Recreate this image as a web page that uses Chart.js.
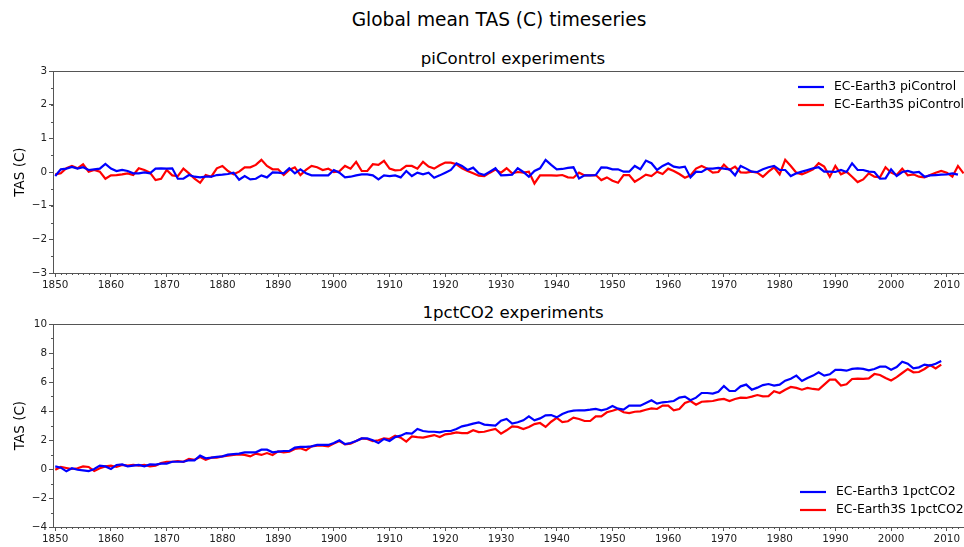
<!DOCTYPE html>
<html>
<head>
<meta charset="utf-8">
<script src="https://cdn.jsdelivr.net/npm/chart.js@4.4.1/dist/chart.umd.min.js"></script>
<style>
  body { margin: 0; width: 964px; height: 547px; overflow: hidden; background: #fff; position: relative; font-family: "DejaVu Sans", sans-serif; }
  .ttl { position: absolute; color: #000; white-space: nowrap; transform: translate(-50%, -50%); }
  canvas { position: absolute; left: 0; }
</style>
</head>
<body>
<div class="ttl" style="left:499px;top:19px;font-size:18.6px">Global mean TAS (C) timeseries</div>
<div class="ttl" style="left:513px;top:58px;font-size:16.6px">piControl experiments</div>
<div class="ttl" style="left:513px;top:312px;font-size:16.6px">1pctCO2 experiments</div>
<canvas id="ctl" width="980" height="300" style="top:0"></canvas>
<canvas id="co2" width="980" height="247" style="top:300px"></canvas>
<script>
// years start at 1850, one value per year
const firstYear = 1850;
const xTicks = [1850, 1860, 1870, 1880, 1890, 1900, 1910, 1920, 1930, 1940, 1950, 1960, 1970, 1980, 1990, 2000, 2010];
const ctlTicks = [-3, -2, -1, 0, 1, 2, 3];
const co2Ticks = [-4, -2, 0, 2, 4, 6, 8, 10];

// piControl
const ec3Ctl = [
  -0.12, 0.08, 0.10, 0.15, 0.10, 0.14, 0.06, 0.08, 0.10, 0.24,
  0.10, 0.03, 0.06, 0.03, -0.04, -0.04, -0.01, -0.04, 0.10, 0.11,
  0.10, 0.11, -0.20, -0.20, -0.09, -0.14, -0.16, -0.14, -0.14, -0.09,
  -0.08, -0.06, -0.02, -0.23, -0.12, -0.22, -0.20, -0.10, -0.16, -0.01,
  -0.02, -0.04, 0.11, -0.04, 0.08, -0.04, -0.10, -0.10, -0.10, -0.10,
  0.06, -0.02, -0.16, -0.14, -0.10, -0.07, -0.07, -0.10, -0.22, -0.10,
  -0.12, -0.10, -0.16, 0.03, -0.12, -0.02, -0.07, -0.02, -0.17, -0.10,
  -0.02, 0.06, 0.26, 0.18, 0.06, 0.13, -0.04, -0.09, 0.01, 0.11,
  -0.10, -0.09, -0.08, 0.11, 0.00, -0.14, 0.03, 0.11, 0.36, 0.21,
  0.08, 0.09, 0.12, 0.14, -0.19, -0.10, -0.10, -0.09, 0.14, 0.13,
  0.08, 0.08, 0.01, 0.01, 0.18, 0.08, 0.34, 0.26, 0.06, 0.18,
  0.26, 0.16, 0.13, 0.16, -0.16, 0.01, 0.00, 0.10, 0.10, 0.12,
  0.10, 0.08, -0.10, 0.18, 0.10, 0.01, 0.00, 0.08, 0.14, 0.18,
  0.06, 0.06, -0.12, -0.04, 0.01, 0.06, 0.11, 0.14, 0.01, 0.01,
  0.00, 0.06, 0.00, 0.26, 0.06, 0.06, 0.01, 0.00, -0.20, -0.19,
  0.08, -0.12, 0.00, 0.03, -0.02, 0.00, -0.14, -0.10, -0.09, -0.08,
  -0.07, -0.04, -0.08
];
const ec3sCtl = [
  -0.07, -0.04, 0.11, 0.18, 0.11, 0.23, 0.01, 0.06, 0.01, -0.20,
  -0.10, -0.09, -0.07, -0.04, -0.09, 0.11, 0.06, -0.02, -0.24, -0.20,
  0.06, -0.10, -0.12, 0.10, -0.04, -0.20, -0.32, -0.09, -0.14, 0.11,
  0.18, 0.03, -0.07, 0.01, 0.14, 0.14, 0.21, 0.36, 0.18, 0.08,
  0.08, -0.09, 0.06, 0.14, -0.09, 0.06, 0.18, 0.14, 0.06, 0.10,
  0.00, 0.02, 0.18, 0.10, 0.30, 0.03, 0.03, 0.23, 0.21, 0.33,
  0.10, 0.05, 0.06, 0.18, 0.18, 0.10, 0.30, 0.16, 0.10, 0.20,
  0.28, 0.28, 0.23, 0.11, 0.03, -0.04, -0.11, -0.12, -0.02, 0.07,
  -0.02, 0.11, -0.04, 0.00, -0.02, 0.01, -0.34, -0.10, -0.10, -0.10,
  -0.11, -0.09, -0.16, -0.17, -0.02, -0.10, -0.10, -0.09, -0.24, -0.16,
  -0.26, -0.32, -0.09, -0.09, -0.29, -0.19, -0.08, -0.12, 0.01, -0.06,
  0.10, 0.03, -0.06, -0.17, -0.10, 0.10, 0.18, 0.10, -0.02, 0.00,
  0.22, 0.06, 0.16, -0.01, -0.02, 0.01, -0.02, -0.14, 0.01, 0.14,
  -0.07, 0.36, 0.18, -0.02, -0.07, 0.00, 0.08, 0.26, 0.16, -0.14,
  0.18, -0.07, 0.01, -0.14, -0.30, -0.22, -0.04, -0.14, -0.16, 0.14,
  -0.02, -0.09, 0.10, -0.10, -0.07, -0.14, -0.16, -0.09, -0.02, 0.03,
  -0.02, -0.14, 0.18, -0.04
];

// 1pctCO2
const ec3Co2 = [
  0.18, 0.09, -0.16, 0.05, -0.05, -0.09, -0.14, 0.00, 0.23, 0.18,
  0.00, 0.28, 0.32, 0.18, 0.23, 0.28, 0.18, 0.32, 0.30, 0.37,
  0.37, 0.50, 0.50, 0.50, 0.60, 0.60, 0.92, 0.74, 0.78, 0.83,
  0.87, 0.99, 1.03, 1.06, 1.15, 1.15, 1.15, 1.33, 1.33, 1.15,
  1.20, 1.24, 1.24, 1.47, 1.52, 1.52, 1.56, 1.66, 1.66, 1.66,
  1.79, 1.98, 1.72, 1.79, 1.93, 2.11, 2.11, 1.98, 1.79, 2.07,
  1.93, 2.20, 2.30, 2.48, 2.44, 2.76, 2.62, 2.57, 2.57, 2.53,
  2.62, 2.62, 2.76, 2.94, 3.03, 3.13, 3.22, 3.06, 3.03, 2.99,
  3.33, 3.45, 3.13, 3.22, 3.36, 3.63, 3.36, 3.49, 3.70, 3.72,
  3.56, 3.79, 3.95, 4.02, 4.05, 4.05, 4.09, 4.14, 4.05, 4.14,
  4.34, 4.16, 4.09, 4.37, 4.37, 4.37, 4.55, 4.74, 4.51, 4.60,
  4.64, 4.69, 4.92, 4.99, 4.74, 4.92, 5.24, 5.24, 5.20, 5.33,
  5.72, 5.38, 5.38, 5.70, 5.82, 5.47, 5.61, 5.79, 5.86, 5.75,
  5.82, 6.09, 6.23, 6.44, 6.07, 6.28, 6.44, 6.67, 6.44, 6.53,
  6.83, 6.83, 6.78, 6.90, 6.94, 6.90, 6.80, 6.90, 7.06, 7.06,
  6.85, 7.03, 7.40, 7.26, 6.94, 7.01, 7.20, 7.13, 7.26, 7.45
];
const ec3sCo2 = [
  -0.05, 0.14, 0.07, 0.00, 0.05, 0.18, 0.14, -0.14, 0.05, 0.18,
  0.23, 0.14, 0.28, 0.23, 0.28, 0.23, 0.28, 0.18, 0.23, 0.41,
  0.50, 0.50, 0.55, 0.50, 0.69, 0.64, 0.83, 0.64, 0.78, 0.78,
  0.87, 0.92, 0.97, 1.01, 0.97, 0.87, 1.06, 0.97, 1.10, 0.97,
  1.22, 1.15, 1.20, 1.38, 1.43, 1.29, 1.56, 1.61, 1.61, 1.56,
  1.75, 1.93, 1.70, 1.75, 1.93, 2.11, 2.07, 1.93, 1.98, 2.11,
  2.07, 2.30, 2.16, 1.89, 2.25, 2.20, 2.16, 2.25, 2.34, 2.20,
  2.39, 2.44, 2.53, 2.48, 2.48, 2.67, 2.55, 2.57, 2.67, 2.76,
  2.44, 2.67, 2.94, 2.90, 2.76, 2.90, 3.10, 3.17, 2.90, 3.26,
  3.52, 3.24, 3.29, 3.54, 3.45, 3.31, 3.31, 3.63, 3.63, 3.91,
  4.02, 4.14, 3.91, 3.86, 3.95, 3.98, 4.09, 4.18, 4.14, 4.37,
  4.37, 4.05, 4.14, 4.55, 4.69, 4.44, 4.64, 4.67, 4.69, 4.78,
  4.83, 4.69, 4.83, 4.92, 4.90, 4.99, 5.10, 5.01, 5.03, 5.36,
  5.24, 5.47, 5.66, 5.59, 5.47, 5.59, 5.52, 5.47, 5.82, 6.16,
  6.16, 5.75, 5.84, 6.21, 6.23, 6.21, 6.25, 6.55, 6.48, 6.28,
  6.11, 6.34, 6.62, 6.90, 6.67, 6.69, 6.90, 7.17, 6.94, 7.20
];

const FONT = '"DejaVu Sans", sans-serif';
const AXIS = '#555';

function toPoints(values){
  return values.map((v, i) => ({ x: firstYear + i, y: v }));
}

function fmtMinus(v){
  return v < 0 ? '\u2212' + Math.abs(v) : String(v);
}

// matplotlib style extras: minor ticks, top spine, legend inside the axes
const extras = {
  id: 'extras',
  afterDraw(chart, args, opts){
    const { ctx, chartArea: a, scales } = chart;
    ctx.save();
    ctx.strokeStyle = AXIS;
    ctx.lineWidth = 1;
    ctx.beginPath();
    ctx.moveTo(a.left, a.top + 0.5);
    ctx.lineTo(a.right, a.top + 0.5);
    for (let yr = 1850; yr <= 2014; yr++) {
      if (yr % 10 === 0) continue;
      let px = Math.round(scales.x.getPixelForValue(yr)) + 0.5;
      ctx.moveTo(px, a.bottom);
      ctx.lineTo(px, a.bottom + 2);
    }
    for (let v = opts.yMin; v <= opts.yMax; v += opts.yMinor) {
      let py = Math.round(scales.y.getPixelForValue(v)) + 0.5;
      ctx.moveTo(a.left - 2, py);
      ctx.lineTo(a.left, py);
    }
    ctx.stroke();

    ctx.font = '12.4px ' + FONT;
    ctx.textBaseline = 'middle';
    chart.data.datasets.forEach((ds, i) => {
      let y = (opts.fromBottom ? a.bottom : a.top) + opts.legY + i * 18;
      let x = a.right - opts.legX;
      ctx.strokeStyle = ds.borderColor;
      ctx.lineWidth = 2.2;
      ctx.beginPath();
      ctx.moveTo(x, y);
      ctx.lineTo(x + 26, y);
      ctx.stroke();
      ctx.fillStyle = '#000';
      ctx.fillText(ds.label, x + 36, y);
    });
    ctx.restore();
  }
};

function makeChart(id, sets, yMin, yMax, yTicks, yMinor, padTop, xHeight, legend){
  return new Chart(document.getElementById(id), {
    type: 'line',
    data: {
      datasets: sets.map(s => ({
        label: s.label,
        data: toPoints(s.values),
        borderColor: s.color,
        borderWidth: 2.2,
        pointRadius: 0,
        tension: 0,
        fill: false
      }))
    },
    options: {
      responsive: false,
      animation: false,
      layout: { padding: { top: padTop, left: 0, right: 7, bottom: 0 } },
      plugins: {
        legend: { display: false },
        tooltip: { enabled: false },
        extras: Object.assign({ yMin: yMin, yMax: yMax, yMinor: yMinor }, legend)
      },
      scales: {
        x: {
          type: 'linear',
          min: 1849.6,
          max: 2014.7,
          afterBuildTicks: s => { s.ticks = xTicks.map(v => ({ value: v })); },
          afterFit: s => { s.height = xHeight; },
          grid: { drawOnChartArea: false, drawTicks: true, tickLength: 4, color: AXIS },
          border: { display: true, color: AXIS, width: 1 },
          ticks: { padding: 2, maxRotation: 0, autoSkip: false, color: '#222', font: { family: FONT, size: 10.4 }, callback: v => String(v) }
        },
        y: {
          min: yMin,
          max: yMax,
          afterBuildTicks: s => { s.ticks = yTicks.map(v => ({ value: v })); },
          afterFit: s => { s.width = 53; },
          grid: { drawOnChartArea: false, drawTicks: true, tickLength: 4, color: AXIS },
          border: { display: true, color: AXIS, width: 1 },
          ticks: { padding: 2, autoSkip: false, color: '#222', font: { family: FONT, size: 10.4 }, callback: v => fmtMinus(v) },
          title: { display: true, text: 'TAS (C)', color: '#000', font: { family: FONT, size: 13.5 }, padding: { top: 12, bottom: 0 } }
        }
      }
    },
    plugins: [extras]
  });
}

makeChart('ctl', [
  { label: 'EC-Earth3 piControl', values: ec3Ctl, color: '#0000ff' },
  { label: 'EC-Earth3S piControl', values: ec3sCtl, color: '#ff0000' }
], -3, 3, ctlTicks, 0.5, 71, 27, { fromBottom: false, legY: 16, legX: 175 });

makeChart('co2', [
  { label: 'EC-Earth3 1pctCO2', values: ec3Co2, color: '#0000ff' },
  { label: 'EC-Earth3S 1pctCO2', values: ec3sCo2, color: '#ff0000' }
], -4, 10, co2Ticks, 1, 24, 20, { fromBottom: true, legY: -35, legX: 173 });
</script>
</body>
</html>
